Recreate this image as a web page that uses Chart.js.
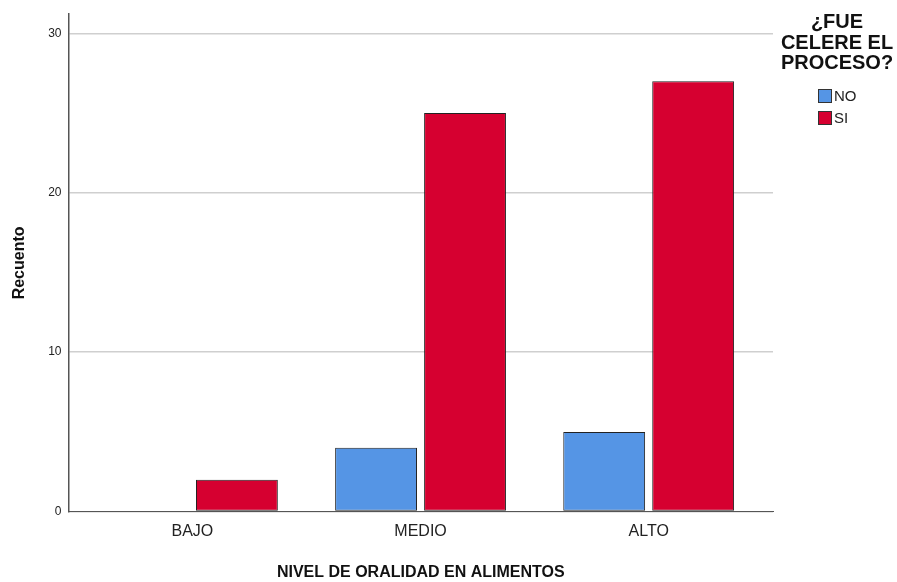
<!DOCTYPE html>
<html>
<head>
<meta charset="utf-8">
<script src="https://cdn.jsdelivr.net/npm/chart.js@4"></script>
<style>
  body { margin: 0; background: #fff; font-family: "Liberation Sans", Arial, sans-serif; }
  #wrap { position: relative; width: 897px; height: 582px; }
  #leyenda { position: absolute; left: 776px; top: 11px; width: 122px; text-align: center; }
  #leyenda .titulo { font-weight: bold; font-size: 20px; line-height: 20.5px; color: #111; }
  #leyenda .items { text-align: left; margin-left: 42px; margin-top: 12px; }
  #leyenda .item { font-size: 15px; line-height: 22px; color: #222; }
  #leyenda .caja { display: inline-block; width: 12px; height: 12px; border: 1px solid #333; vertical-align: -2px; margin-right: 2px; }
</style>
</head>
<body>
<div id="wrap">
  <canvas id="chartRecuento" width="897" height="582"></canvas>
  <div id="leyenda"></div>
</div>
<script>
const categorias = ['BAJO', 'MEDIO', 'ALTO'];
const valoresNo = [0, 4, 5];
const valoresSi = [2, 25, 27];
const ticksY = [0, 10, 20, 30];
const tituloLeyenda = ['¿FUE', 'CELERE EL', 'PROCESO?'];

const colorNo = '#5595E5';
const colorSi = '#D60030';

// puntos {x: indice categoria, y: valor}
const puntos = (valores) => valores.map((v, i) => ({ x: i, y: v }));

const ctx = document.getElementById('chartRecuento');
const chart = new Chart(ctx, {
    type: 'bar',
    data: {
        datasets: [
            {
                label: 'NO',
                data: puntos(valoresNo),
                backgroundColor: colorNo,
                borderColor: '#222',
                borderWidth: 1,
                borderSkipped: false
            },
            {
                label: 'SI',
                data: puntos(valoresSi),
                backgroundColor: colorSi,
                borderColor: '#222',
                borderWidth: 1,
                borderSkipped: false
            }
        ]
    },
    options: {
        responsive: false,
        animation: false,
        layout: {
            padding: { left: 10, right: 124, top: 10, bottom: 0 }
        },
        categoryPercentage: 0.78,
        barPercentage: 0.92,
        scales: {
            x: {
                type: 'linear',
                offset: false,
                min: -0.543,
                max: 2.545,
                afterBuildTicks: (scale) => {
                    scale.ticks = categorias.map((c, i) => ({ value: i }));
                },
                grid: { display: false, drawTicks: false },
                border: { color: '#555', width: 1 },
                ticks: {
                    color: '#222',
                    font: { family: 'Liberation Sans', size: 16 },
                    padding: 10,
                    callback: (v) => categorias[v]
                },
                title: {
                    display: true,
                    text: 'NIVEL DE ORALIDAD EN ALIMENTOS',
                    color: '#111',
                    font: { family: 'Liberation Sans', size: 16, weight: 'bold' },
                    padding: { top: 12, bottom: 0 }
                }
            },
            y: {
                min: 0,
                max: 31.2,
                afterBuildTicks: (scale) => {
                    scale.ticks = ticksY.map(v => ({ value: v }));
                },
                grid: { color: '#cfcfcf', lineWidth: 1.5, drawTicks: false },
                border: { color: '#555', width: 1.5 },
                ticks: {
                    color: '#222',
                    font: { family: 'Liberation Sans', size: 12 },
                    padding: 7
                },
                title: {
                    display: true,
                    text: 'Recuento',
                    color: '#111',
                    font: { family: 'Liberation Sans', size: 16, weight: 'bold' },
                    padding: { top: 0, bottom: 12 }
                }
            }
        },
        plugins: {
            legend: { display: false },
            tooltip: { enabled: false }
        }
    }
});

// leyenda a la derecha
const leyenda = document.getElementById('leyenda');
let html = '<div class="titulo">' + tituloLeyenda.join('<br>') + '</div><div class="items">';
chart.data.datasets.forEach((ds) => {
    html += '<div class="item"><span class="caja" style="background:' + ds.backgroundColor + '"></span>' + ds.label + '</div>';
});
html += '</div>';
leyenda.innerHTML = html;
</script>
</body>
</html>
